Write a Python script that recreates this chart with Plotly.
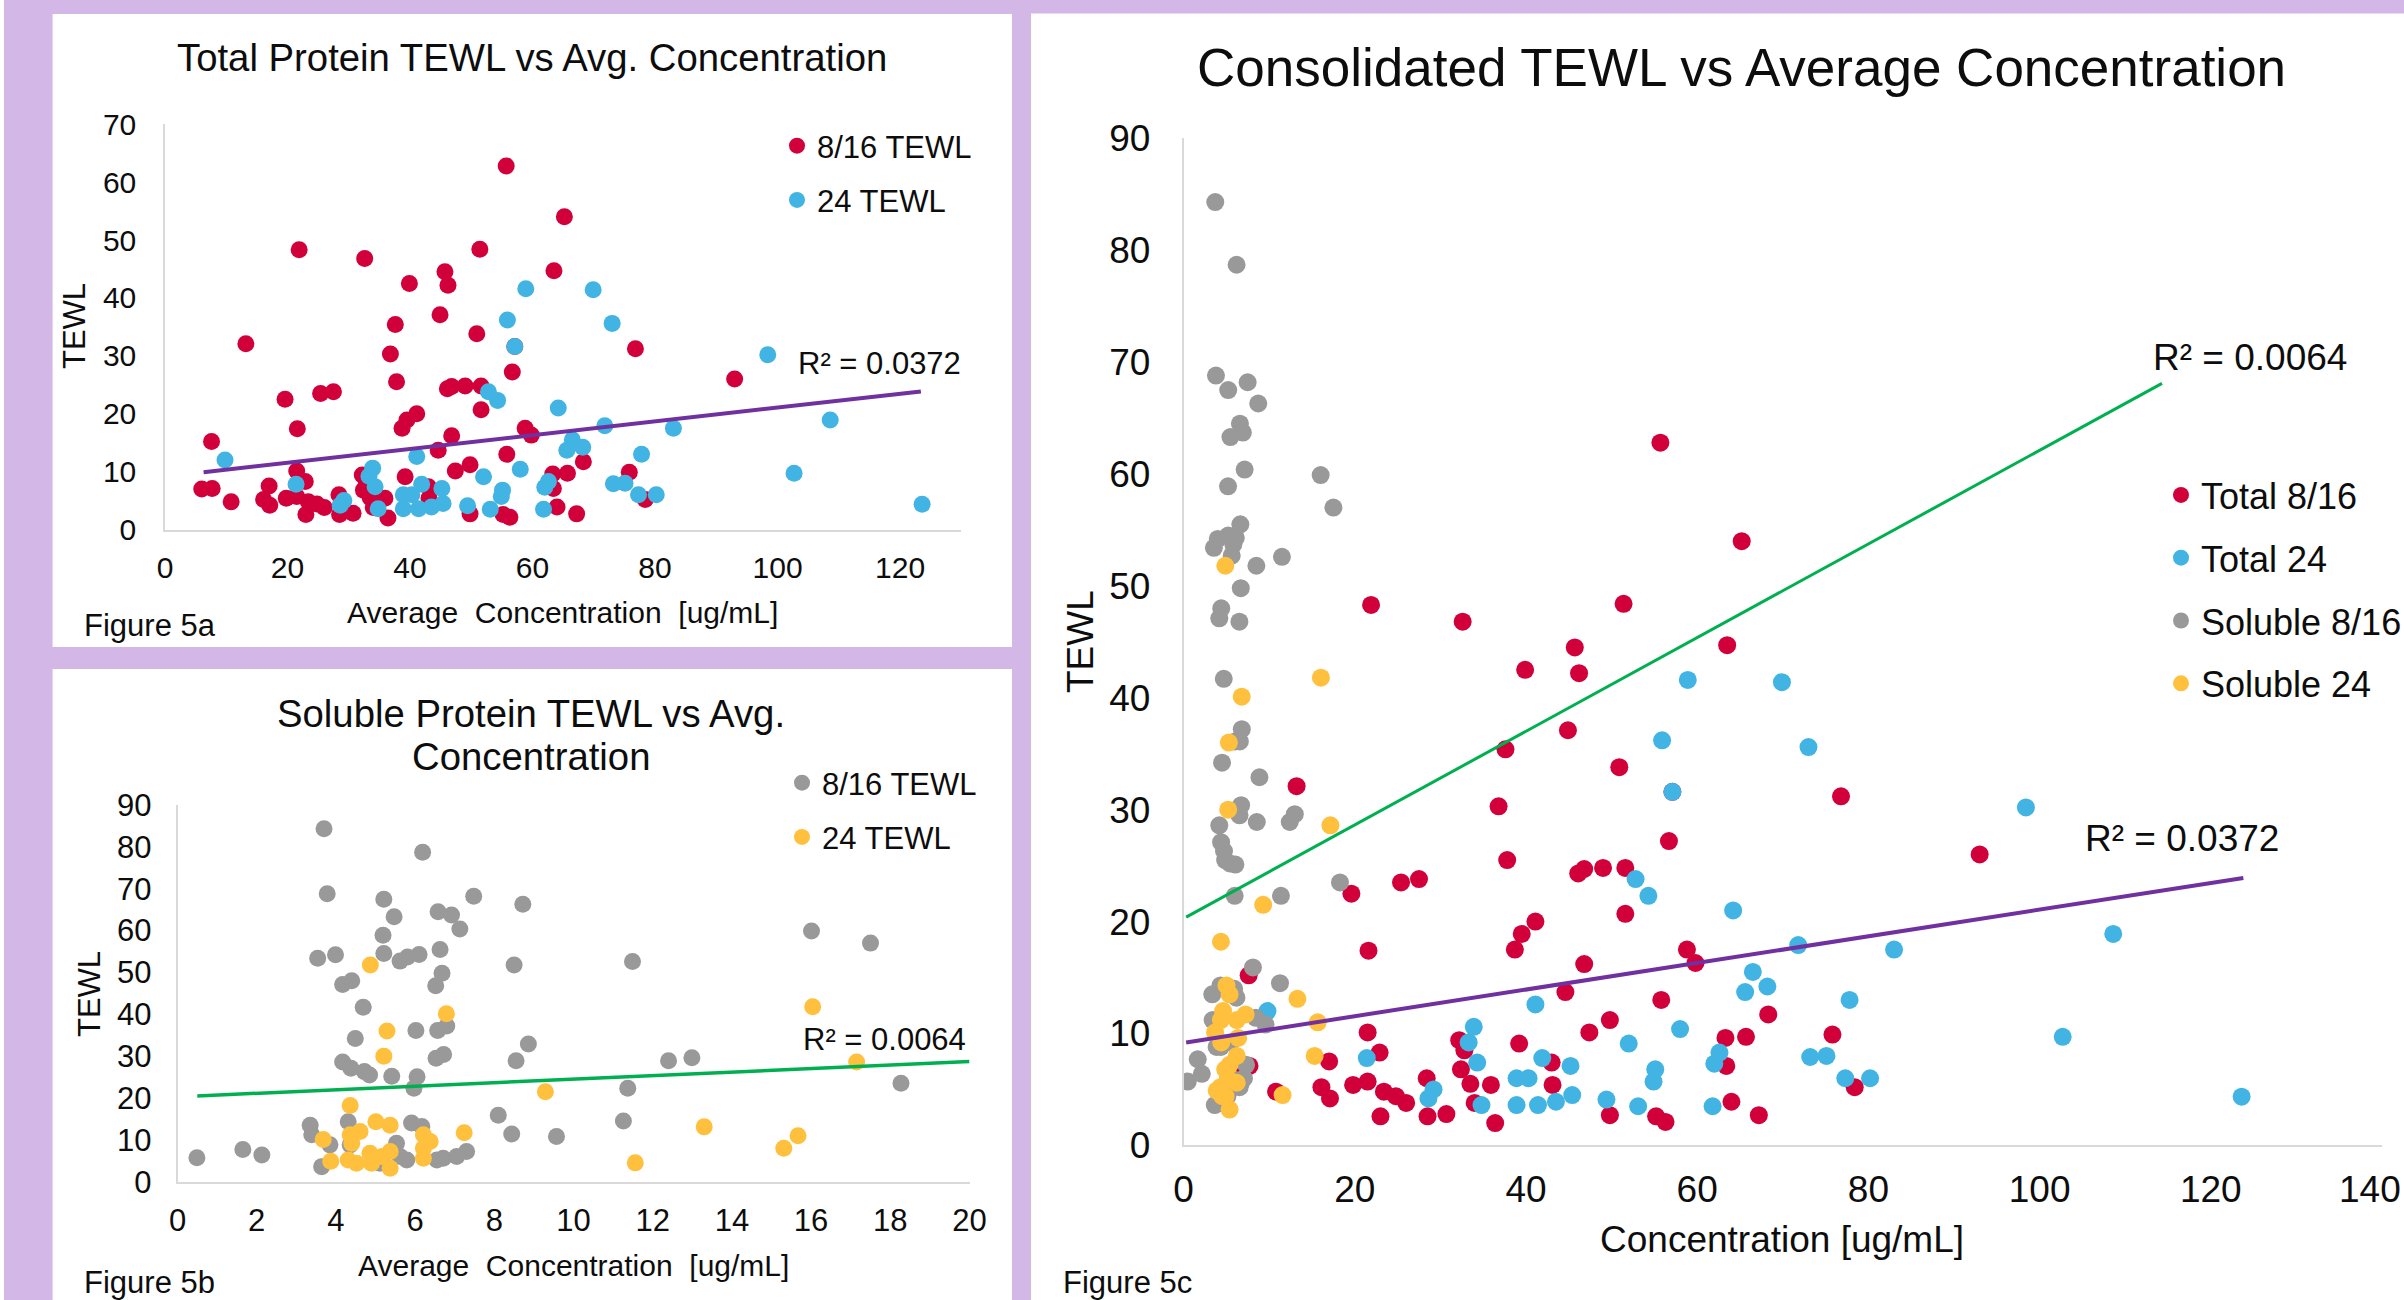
import plotly.graph_objects as go

W, H = 2404, 1300

# ---------------- data ----------------
total816_x = [55.7, 65.2, 21.9, 32.6, 51.4, 45.7, 46.2, 39.9, 63.5, 44.9, 37.6, 50.9, 13.2, 36.8, 76.8,
              57.1, 56.7, 93.0, 37.8, 46.1, 46.8, 49.0, 51.6, 19.6, 25.4, 27.5, 51.6, 41.1, 39.5, 38.7,
              21.6, 7.6, 46.8, 58.8, 59.8, 44.6, 55.8, 68.3, 49.8, 47.4, 75.8, 65.7, 63.3, 39.2, 32.2,
              32.8, 21.5, 22.9, 6.0, 7.7, 10.8, 17.0, 16.1, 17.1, 19.8, 21.5, 23.4, 23.0, 24.8, 26.0,
              28.4, 28.5, 30.7, 32.4, 33.5, 35.9, 36.4, 34.0, 49.8, 55.2, 56.3, 63.4, 64.0, 67.2, 78.4,
              43.1, 43.0]
total816_y = [62.8, 54.0, 48.3, 46.8, 48.4, 44.5, 42.2, 42.5, 44.7, 37.1, 35.4, 33.8, 32.1, 30.3, 31.2,
              31.6, 27.2, 26.0, 25.5, 24.3, 24.7, 24.8, 24.8, 22.5, 23.5, 23.8, 20.7, 20.0, 18.9, 17.5,
              17.4, 15.2, 16.2, 17.5, 16.3, 13.7, 13.0, 11.7, 11.2, 10.1, 9.9, 9.7, 9.6, 9.1, 9.4,
              8.5, 10.1, 8.3, 7.0, 7.1, 4.8, 7.5, 5.2, 4.2, 5.4, 5.7, 4.8, 2.6, 4.4, 3.8,
              6.0, 2.6, 2.8, 6.8, 5.5, 5.4, 2.0, 3.8, 2.7, 2.6, 2.1, 7.1, 3.9, 2.7, 5.2,
              5.4, 7.4]

total24_x = [58.9, 69.9, 55.9, 73.0, 57.1, 98.4, 52.8, 54.3, 64.2, 71.8, 83.0, 108.6, 66.5, 68.2, 65.6,
             77.8, 9.8, 41.1, 58.0, 52.0, 102.7, 33.9, 21.4, 33.3, 34.3, 62.6, 62.0, 73.2, 75.1, 77.3,
             80.2, 123.6, 28.6, 29.2, 34.8, 38.9, 38.9, 40.3, 41.4, 41.9, 43.5, 45.2, 45.4, 49.4, 53.1,
             55.1, 54.9, 61.8]
total24_y = [41.6, 41.4, 36.2, 35.6, 31.6, 30.2, 23.8, 22.3, 21.0, 17.9, 17.5, 18.9, 15.5, 14.2, 13.7,
             13.0, 12.0, 12.6, 10.4, 9.1, 9.7, 10.6, 7.8, 9.2, 7.4, 8.3, 7.3, 7.9, 8.0, 6.0,
             6.0, 4.35, 4.2, 5.0, 3.6, 6.0, 3.6, 6.0, 3.6, 7.8, 3.9, 7.1, 4.5, 4.1, 3.5,
             6.8, 5.7, 3.5]

soluble816_x = [3.70, 6.19, 3.78, 5.21, 7.48, 8.72, 5.47, 6.58, 6.92, 7.13, 16.01, 17.5, 5.19, 3.54, 3.99,
                5.21, 5.62, 5.81, 6.10, 6.63, 8.50, 11.49, 6.68, 6.52, 4.17, 4.40, 4.69, 4.49, 6.02, 6.57,
                6.80, 8.86, 4.17, 4.38, 4.72, 4.85, 5.41, 6.05, 5.97, 6.53, 6.72, 8.55, 12.4, 12.99, 11.37,
                18.27, 8.1, 11.26, 8.44, 9.57, 0.49, 1.65, 2.13, 3.35, 3.39, 3.64, 3.85, 4.31, 4.36, 5.11,
                5.53, 5.62, 5.79, 5.91, 6.17, 6.55, 6.71, 7.05, 7.3]
soluble816_y = [84.3, 78.7, 68.8, 67.5, 68.2, 66.3, 63.3, 64.5, 63.7, 60.4, 59.9, 57.0, 58.9, 53.4, 54.2,
                54.5, 52.7, 53.7, 54.3, 55.5, 51.8, 52.6, 49.8, 46.8, 47.1, 48.0, 41.7, 34.2, 36.1, 36.1,
                37.2, 32.9, 28.6, 27.1, 26.3, 25.5, 25.2, 25.1, 22.3, 29.5, 30.4, 28.9, 28.9, 29.6, 22.3,
                23.5, 15.9, 14.5, 11.4, 10.8, 5.7, 7.7, 6.4, 13.5, 11.2, 3.6, 8.8, 14.3, 8.8, 4.4,
                9.2, 6.0, 5.2, 14.0, 13.2, 5.2, 5.6, 6.0, 7.2]

soluble24_x = [4.87, 6.79, 16.04, 5.29, 5.21, 17.15, 9.29, 4.36, 5.01, 5.37, 7.24, 13.3, 15.67, 15.31, 11.56,
               3.68, 3.87, 4.36, 4.40, 4.61, 4.31, 4.52, 4.86, 4.90, 5.16, 5.37, 5.37, 6.21, 6.38, 6.21,
               6.21]
soluble24_y = [51.8, 40.1, 41.8, 36.0, 30.0, 28.6, 21.5, 18.2, 14.3, 13.5, 11.7, 13.1, 11.0, 8.0, 4.5,
               10.1, 4.9, 11.2, 9.2, 12.0, 5.2, 4.4, 6.8, 4.4, 6.0, 7.2, 3.2, 11.2, 9.6, 8.0,
               5.6]

# trendline end points as drawn in the reference
trend_total_a_x = [6.3, 123.4]
trend_total_a_y = [9.9, 23.85]
trend_sol_b_x = [0.5, 20.0]
trend_sol_b_y = [20.5, 28.7]
trend_total_c_x = [0.3, 123.8]
trend_total_c_y = [9.2, 23.9]
trend_sol_c_x = [0.3, 114.3]
trend_sol_c_y = [20.4, 68.1]

# tick values
ticks_a_x = [0, 20, 40, 60, 80, 100, 120]
ticks_c_x = [0, 20, 40, 60, 80, 100, 120]
last_tick_c_x = "140"

r2_total = "R² = 0.0372"
r2_soluble = "R² = 0.0064"

RED = "#d2003a"
BLUE = "#42b4e4"
GRAY = "#999999"
YELLOW = "#ffc03e"
PURPLE = "#7030a0"
GREEN = "#00b050"
BG = "#d3b7e6"
FONT = "Liberation Sans, Arial, sans-serif"
TXT = "#0d0d0d"


def px(X):
    return X / W


def py(Y):
    return 1 - Y / H


fig = go.Figure()

# ---- Figure 5a ----
fig.add_trace(go.Scatter(x=total816_x, y=total816_y, mode="markers", name="8/16 TEWL",
                         marker=dict(color=RED, size=17), xaxis="x", yaxis="y",
                         legend="legend", legendgroup="a1"))
fig.add_trace(go.Scatter(x=total24_x, y=total24_y, mode="markers", name="24 TEWL",
                         marker=dict(color=BLUE, size=17), xaxis="x", yaxis="y",
                         legend="legend", legendgroup="a2"))
fig.add_trace(go.Scatter(x=trend_total_a_x, y=trend_total_a_y, mode="lines",
                         line=dict(color=PURPLE, width=4), showlegend=False, xaxis="x", yaxis="y"))

# ---- Figure 5b ----
fig.add_trace(go.Scatter(x=soluble816_x, y=soluble816_y, mode="markers", name="8/16 TEWL",
                         marker=dict(color=GRAY, size=17), xaxis="x2", yaxis="y2",
                         legend="legend2", legendgroup="b1"))
fig.add_trace(go.Scatter(x=soluble24_x, y=soluble24_y, mode="markers", name="24 TEWL",
                         marker=dict(color=YELLOW, size=17), xaxis="x2", yaxis="y2",
                         legend="legend2", legendgroup="b2"))
fig.add_trace(go.Scatter(x=trend_sol_b_x, y=trend_sol_b_y, mode="lines",
                         line=dict(color=GREEN, width=3.5), showlegend=False, xaxis="x2", yaxis="y2"))

# ---- Figure 5c ----
fig.add_trace(go.Scatter(x=total816_x, y=total816_y, mode="markers", name="Total 8/16",
                         marker=dict(color=RED, size=18), xaxis="x3", yaxis="y3",
                         legend="legend3", legendgroup="c1"))
fig.add_trace(go.Scatter(x=total24_x, y=total24_y, mode="markers", name="Total 24",
                         marker=dict(color=BLUE, size=18), xaxis="x3", yaxis="y3",
                         legend="legend3", legendgroup="c2"))
fig.add_trace(go.Scatter(x=soluble816_x, y=soluble816_y, mode="markers", name="Soluble 8/16",
                         marker=dict(color=GRAY, size=18), xaxis="x3", yaxis="y3",
                         legend="legend3", legendgroup="c3"))
fig.add_trace(go.Scatter(x=soluble24_x, y=soluble24_y, mode="markers", name="Soluble 24",
                         marker=dict(color=YELLOW, size=18), xaxis="x3", yaxis="y3",
                         legend="legend3", legendgroup="c4"))
fig.add_trace(go.Scatter(x=trend_total_c_x, y=trend_total_c_y, mode="lines",
                         line=dict(color=PURPLE, width=4), showlegend=False, xaxis="x3", yaxis="y3"))
fig.add_trace(go.Scatter(x=trend_sol_c_x, y=trend_sol_c_y, mode="lines",
                         line=dict(color=GREEN, width=3), showlegend=False, xaxis="x3", yaxis="y3"))


def xax(d0, d1, rng, dtick, anchor, size, standoff, tickvals=None):
    d = dict(domain=[px(d0), px(d1)], range=rng, dtick=dtick, tick0=0, anchor=anchor,
             showgrid=False, zeroline=False, showline=True, linecolor="#d9d9d9", linewidth=2,
             automargin=False,
             ticks="", ticklabelstandoff=standoff, tickfont=dict(size=size, color=TXT, family=FONT))
    if tickvals is not None:
        d.update(tickmode="array", tickvals=tickvals)
    return d


def yax(d_top, d_bot, rng, dtick, anchor, size, standoff):
    return dict(domain=[py(d_bot), py(d_top)], range=rng, dtick=dtick, tick0=0, anchor=anchor,
                showgrid=False, zeroline=False, showline=True, linecolor="#d9d9d9", linewidth=1.5,
                automargin=False,
                ticks="", ticklabelstandoff=standoff, tickfont=dict(size=size, color=TXT, family=FONT))


shapes = [
    dict(type="rect", xref="paper", yref="paper", x0=0, x1=px(4), y0=0, y1=1,
         fillcolor="white", line=dict(width=0), layer="below"),
    dict(type="rect", xref="paper", yref="paper", x0=px(52.6), x1=px(1012), y0=py(647), y1=py(14),
         fillcolor="white", line=dict(width=0), layer="below"),
    dict(type="rect", xref="paper", yref="paper", x0=px(52.6), x1=px(1012), y0=0, y1=py(669),
         fillcolor="white", line=dict(width=0), layer="below"),
    dict(type="rect", xref="paper", yref="paper", x0=px(1031), x1=1, y0=0, y1=py(13.5),
         fillcolor="white", line=dict(width=0), layer="below"),
]


def ann(text, X, Y, size, xanchor="center", angle=0):
    return dict(text=text, xref="paper", yref="paper", x=px(X), y=py(Y), xanchor=xanchor,
                yanchor="middle", showarrow=False, textangle=angle,
                font=dict(size=size, color=TXT, family=FONT))


annotations = [
    ann("Total Protein TEWL vs Avg. Concentration", 532, 58, 38.3),
    ann("Soluble Protein TEWL vs Avg.", 531, 713, 38.3),
    ann("Concentration", 531, 756, 38.3),
    ann("Consolidated TEWL vs Average Concentration", 1741, 67, 53),
    ann("Average\u00a0 Concentration\u00a0 [ug/mL]", 562, 612, 30),
    ann("Average\u00a0 Concentration\u00a0 [ug/mL]", 573, 1265, 30),
    ann("Concentration [ug/mL]", 1782, 1239, 37),
    ann("TEWL", 75, 326, 31, angle=-90),
    ann("TEWL", 89, 994, 31, angle=-90),
    ann("TEWL", 1080, 642, 37, angle=-90),
    ann("Figure 5a", 82, 626, 31, xanchor="left"),
    ann("Figure 5b", 82, 1282, 31, xanchor="left"),
    ann("Figure 5c", 1061, 1282, 31, xanchor="left"),
    ann(last_tick_c_x, 2403, 1189, 37, xanchor="right"),
    dict(text=r2_total, xref="x", yref="y", x=103, y=28.7, xanchor="left", yanchor="middle",
         showarrow=False, font=dict(size=31, color=TXT, family=FONT)),
    dict(text=r2_soluble, xref="x2", yref="y2", x=15.75, y=33.9, xanchor="left", yanchor="middle",
         showarrow=False, font=dict(size=31, color=TXT, family=FONT)),
    dict(text=r2_total, xref="x3", yref="y3", x=105.1, y=27.4, xanchor="left", yanchor="middle",
         showarrow=False, font=dict(size=37, color=TXT, family=FONT)),
    dict(text=r2_soluble, xref="x3", yref="y3", x=113, y=70.4, xanchor="left", yanchor="middle",
         showarrow=False, font=dict(size=37, color=TXT, family=FONT)),
]


def leg(X, Y, size, gap):
    return dict(x=px(X), y=py(Y), xanchor="left", yanchor="top", bgcolor="rgba(0,0,0,0)",
                borderwidth=0, font=dict(size=size, color=TXT, family=FONT),
                tracegroupgap=gap, itemsizing="trace")


fig.update_layout(
    width=W, height=H, margin=dict(l=0, r=0, t=0, b=0, pad=0, autoexpand=False),
    paper_bgcolor=BG, plot_bgcolor="rgba(0,0,0,0)",
    font=dict(family=FONT, color=TXT),
    xaxis=xax(165, 961.3, [0, 130], 20, "y", 30, 10, ticks_a_x),
    yaxis=yax(124.2, 529.5, [0, 70], 10, "x", 30, 21),
    xaxis2=xax(177.5, 969.5, [0, 20], 2, "y2", 31, 10),
    yaxis2=yax(805, 1181.7, [0, 90], 10, "x2", 31, 18),
    xaxis3=xax(1183.6, 2382, [0, 140], 20, "y3", 37, 10, ticks_c_x),
    yaxis3=yax(138.3, 1145.4, [0, 90], 10, "x3", 37, 24),
    legend=leg(777, 119, 31, 11),
    legend2=leg(782, 756, 31, 11),
    legend3=leg(2161, 465, 36, 13),
    shapes=shapes,
    annotations=annotations,
    hovermode=False,
)

fig.write_html("out.html")
